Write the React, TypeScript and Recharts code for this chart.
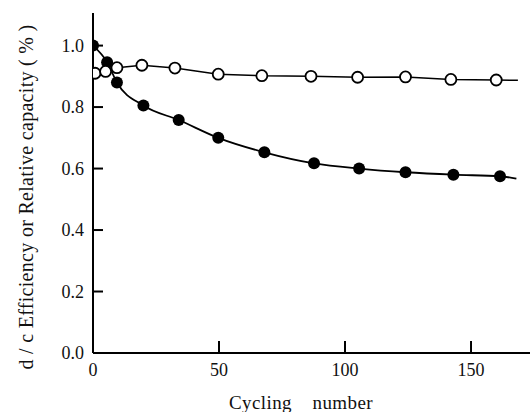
import React from "react";
import { LineChart, Line, XAxis, YAxis } from "recharts";

// 充放电循环数据
const capCycles = [0, 5.6, 9.5, 20, 34, 49.7, 68, 87.7, 105.6, 124, 143, 161.5, 168];
const capValues = [1.0, 0.946, 0.88, 0.805, 0.758, 0.7, 0.653, 0.617, 0.6, 0.588, 0.58, 0.575, 0.567];
const effCycles = [0.8, 5, 9.5, 19.4, 32.5, 49.7, 67, 86.5, 105, 124, 142, 160, 168.6];
const effValues = [0.91, 0.916, 0.928, 0.936, 0.927, 0.907, 0.902, 0.9, 0.897, 0.898, 0.89, 0.888, 0.887];

const xTicks = [0, 50, 100, 150];
const yTicks = [0, 0.2, 0.4, 0.6, 0.8, 1.0];

const capData = capCycles.map((x, i) => ({ x, v: capValues[i] }));
const effData = effCycles.map((x, i) => ({ x, v: effValues[i] }));

const FONT = "'Liberation Serif', 'DejaVu Serif', serif";
const tickStyle = { fontFamily: FONT, fontSize: 18, fill: "#111" };

// 最后一个点只用来延长曲线，不画圆点
const filledDot = (last: number) => (p: any) =>
    p.index === last ? <g key={p.index} /> : <circle key={p.index} cx={p.cx} cy={p.cy} r={6} fill="#000" />;
const openDot = (last: number) => (p: any) =>
    p.index === last ? <g key={p.index} /> : (
        <circle key={p.index} cx={p.cx} cy={p.cy} r={5.5} fill="#fff" stroke="#000" strokeWidth={1.8} />
    );

export default function App() {
    return (
        <div style={{ position: "absolute", left: 0, top: 0, background: "#fff" }}>
            <style>{`body{margin:0}`}</style>
            <LineChart width={530} height={412} margin={{ top: 13, right: 0, left: 0, bottom: 0 }}>
                <XAxis
                    dataKey="x"
                    type="number"
                    domain={[0, 173.4]}
                    ticks={xTicks}
                    allowDataOverflow
                    height={59}
                    tickSize={-12}
                    tickMargin={22}
                    tickLine={{ stroke: "#000", strokeWidth: 2 }}
                    axisLine={{ stroke: "#000", strokeWidth: 2 }}
                    tick={tickStyle}
                    label={{
                        content: () => (
                            <text x={301} y={409} textAnchor="middle" fontFamily={FONT} fontSize={19} letterSpacing={0.4} fill="#111">
                                Cycling{"\u00a0\u00a0\u00a0\u00a0"}number
                            </text>
                        ),
                    }}
                />
                <XAxis
                    xAxisId="top"
                    orientation="top"
                    dataKey="x"
                    type="number"
                    domain={[0, 173.4]}
                    height={0}
                    tick={false}
                    tickLine={false}
                    axisLine={{ stroke: "#000", strokeWidth: 2 }}
                />
                <YAxis
                    type="number"
                    domain={[0, 1.106]}
                    ticks={yTicks}
                    tickFormatter={(v: number) => v.toFixed(1)}
                    allowDataOverflow
                    width={93}
                    tickSize={-10}
                    tickMargin={19}
                    tickLine={{ stroke: "#000", strokeWidth: 2 }}
                    axisLine={{ stroke: "#000", strokeWidth: 2 }}
                    tick={tickStyle}
                    label={{
                        content: () => (
                            <text
                                x={33}
                                y={197}
                                transform="rotate(-90 33 197)"
                                textAnchor="middle"
                                fontFamily={FONT}
                                fontSize={20}
                                letterSpacing={0.3}
                                fill="#111"
                            >
                                d / c Efficiency or Relative capacity ( % )
                            </text>
                        ),
                    }}
                />
                <Line
                    data={capData}
                    dataKey="v"
                    type="monotone"
                    stroke="#000"
                    strokeWidth={1.8}
                    dot={filledDot(capData.length - 1)}
                    activeDot={false}
                    isAnimationActive={false}
                />
                <Line
                    data={effData}
                    dataKey="v"
                    type="linear"
                    stroke="#000"
                    strokeWidth={1.5}
                    dot={openDot(effData.length - 1)}
                    activeDot={false}
                    isAnimationActive={false}
                />
            </LineChart>
        </div>
    );
}
